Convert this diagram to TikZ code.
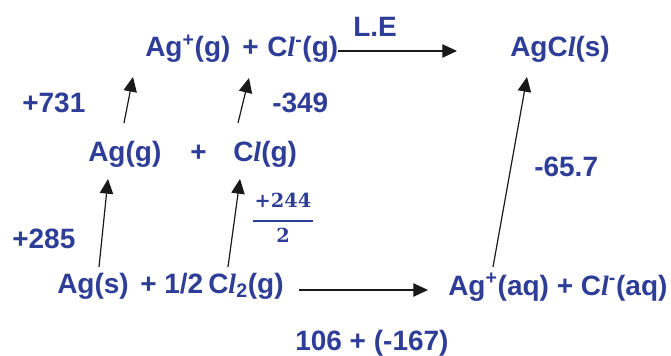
\documentclass[tikz,border=0pt]{standalone}
\usepackage{fontspec}
\usetikzlibrary{arrows.meta}
\newfontfamily\lsans{Liberation Sans}
\newfontfamily\lserif{Liberation Serif}
\newfontfamily\dserif{DejaVu Serif}
\definecolor{txtblue}{RGB}{46,62,152}
\newcommand{\ClSym}{C{\lserif\bfseries\itshape l}}
\begin{document}
\begin{tikzpicture}[x=0.75pt,y=-0.75pt,
  lbl/.style={font=\lsans\bfseries\fontsize{21}{25}\selectfont, text=txtblue, inner sep=0pt, anchor=base west},
  frac/.style={font=\dserif\bfseries\fontsize{14.5}{17}\selectfont, text=txtblue, inner sep=0pt},
  arr/.style={-{Triangle[length=11pt,width=10pt]}, line width=0.9pt, draw=black!90}]
\useasboundingbox (0,0) rectangle (671,356);
% top row
\node[lbl] (agion) at (145,57) {Ag\textsuperscript{+}(g)};
\node[lbl] (plusA) at (242,57) {+};
\node[lbl] (clion) at (267,57) {\ClSym\textsuperscript{-}(g)};
\node[lbl] (agcl) at (510,57) {Ag\ClSym(s)};
\node[lbl] (le) at (353,37) {L.E};
% middle row
\node[lbl] (agg) at (88,162) {Ag(g)};
\node[lbl] (plusB) at (190,162) {+};
\node[lbl] (clg) at (233,162) {\ClSym(g)};
% bottom row
\node[lbl] (ags) at (57,293) {Ag(s)};
\node[lbl] (half) at (140,293) {+ 1/2};
\node[lbl] (cl2) at (208,293) {\ClSym\textsubscript{2}(g)};
\node[lbl] (agaq) at (448,295) {Ag\textsuperscript{+}(aq) + \ClSym\textsuperscript{-}(aq)};
% values
\node[lbl] (v731) at (22,113) {+731};
\node[lbl] (v349) at (272,113) {-349};
\node[lbl] (v657) at (534,177) {-65.7};
\node[lbl] (v285) at (12,248) {+285};
\node[lbl] (v106) at (295,350) {106 + (-167)};
\node[frac, anchor=base] (num) at (283,208) {+244};
\node[frac, anchor=base] (den) at (283,243) {2};
\draw[txtblue, line width=1.5pt] ([xshift=-1pt,yshift=-9.5pt]num.base west) -- ([xshift=1pt,yshift=-9.5pt]num.base east);
% arrows
\draw[arr] ([shift={(36,-39)}]agg.base west) -- ([shift={(-12,20)}]agion.base west);
\draw[arr] ([shift={(5,-39)}]clg.base west) -- ([shift={(-18,21)}]clion.base west);
\draw[arr] ([shift={(42,-26)}]ags.base west) -- ([shift={(20,17)}]agg.base west);
\draw[arr] ([shift={(20,-26)}]cl2.base west) -- ([shift={(7,17)}]clg.base west);
\draw[arr] ([shift={(45,-28)}]agaq.base west) -- ([shift={(17,20)}]agcl.base west);
\draw[arr] ([shift={(0,-6)}]clion.base east) -- ([shift={(-53,-6)}]agcl.base west);
\draw[arr] ([shift={(15,-3)}]cl2.base east) -- ([shift={(-20,-5)}]agaq.base west);
\end{tikzpicture}
\end{document}
